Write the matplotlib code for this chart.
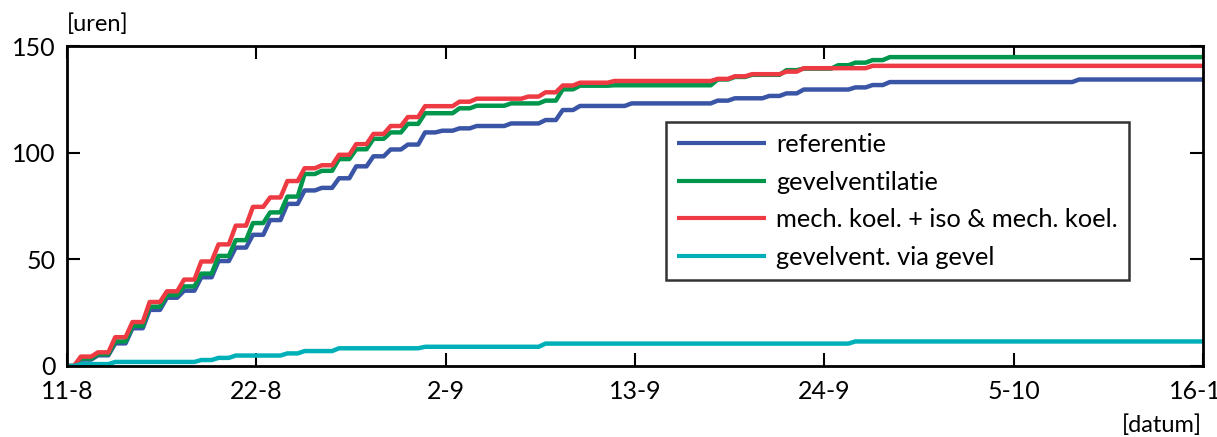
import numpy as np
import matplotlib
matplotlib.use("Agg")
import matplotlib.pyplot as plt

# ---- data: cumulative hours at end of each day (day 0 = 11 Aug) ----
referentie = [3, 5, 10.6, 17.7, 26.3, 32, 35.3, 41.6, 49.2, 55.5,
              61.5, 68.4, 76, 82.3, 83.5, 88, 93.6, 98.3, 101.5, 103.8,
              109.5, 110.3, 111.4, 112.5, 112.5, 113.7, 113.7, 115.3, 120, 121.9,
              121.9, 121.9, 123.1, 123.1, 123.1, 123.1, 123.1, 124.4, 125.5, 125.5,
              126.6, 127.8, 129.6, 129.6, 129.6, 130.6, 131.7, 133.1, 133.1, 133.1,
              133.1, 133.1, 133.1, 133.1, 133.1, 133.1, 133.1, 133.1, 134.3, 134.3,
              134.3, 134.3, 134.3, 134.3, 134.3, 134.3]
gevelventilatie = [3.5, 5.5, 11.5, 18.8, 27.8, 33.3, 37.3, 43.3, 51.6, 59,
                   67, 72, 79.4, 90, 91.5, 97, 101.6, 106.5, 109.5, 113.5,
                   118.5, 118.5, 120.8, 122, 122, 123.1, 123.1, 124.4, 129.7, 131.4,
                   131.4, 131.6, 131.6, 131.6, 131.6, 131.6, 131.6, 134.3, 135.5, 136.5,
                   136.5, 138.7, 139.4, 139.4, 141, 142.2, 143.4, 144.8, 144.8, 144.8,
                   144.8, 144.8, 144.8, 144.8, 144.8, 144.8, 144.8, 144.8, 144.8, 144.8,
                   144.8, 144.8, 144.8, 144.8, 144.8, 144.8]
mech_koel = [4.4, 6.4, 13.5, 20.6, 30, 35, 40.5, 49, 57, 65.8,
             74.6, 79, 86.7, 92.7, 94.1, 99, 104, 108.8, 112.5, 116.7,
             121.8, 121.8, 123.9, 125.3, 125.3, 125.3, 126.3, 128.3, 131.5, 132.8,
             132.8, 133.6, 133.6, 133.6, 133.6, 133.6, 133.6, 134.6, 135.8, 136.8,
             136.8, 138, 139.6, 139.6, 139.6, 139.6, 140.7, 140.7, 140.7, 140.7,
             140.7, 140.7, 140.7, 140.7, 140.7, 140.7, 140.7, 140.7, 140.7, 140.7,
             140.7, 140.7, 140.7, 140.7, 140.7, 140.7]
gevelvent_via_gevel = [0.9, 0.9, 1.9, 1.9, 1.9, 1.9, 1.9, 2.8, 3.8, 4.9,
                       4.9, 4.9, 5.9, 7.0, 7.0, 8.3, 8.3, 8.3, 8.3, 8.3,
                       9.0, 9.0, 9.0, 9.0, 9.0, 9.0, 9.0, 10.5, 10.5, 10.5,
                       10.5, 10.5, 10.5, 10.5, 10.5, 10.5, 10.5, 10.5, 10.5, 10.5,
                       10.5, 10.5, 10.5, 10.5, 10.5, 11.5, 11.5, 11.5, 11.5, 11.5,
                       11.5, 11.5, 11.5, 11.5, 11.5, 11.5, 11.5, 11.5, 11.5, 11.5,
                       11.5, 11.5, 11.5, 11.5, 11.5, 11.5]

series_labels = ["referentie", "gevelventilatie",
                 "mech. koel. + iso & mech. koel.", "gevelvent. via gevel"]
series_colors = ["#3A55A6", "#00964C", "#EE3A43", "#00B0B8"]

xtick_days = [0, 11, 22, 33, 44, 55, 66]
xtick_labels = ["11-8", "22-8", "2-9", "13-9", "24-9", "5-10", "16-10"]
yticks = [0, 50, 100, 150]


def step_path(vals, total_days=66, rise_start=0.4, rise_end=0.8):
    xs, ys = [0.0], [0.0]
    prev = 0.0
    for d, v in enumerate(vals):
        xs += [d + rise_start, d + rise_end]
        ys += [prev, v]
        prev = v
    xs.append(total_days)
    ys.append(prev)
    return np.array(xs), np.array(ys)


plt.rcParams['font.family'] = ['Lato', 'DejaVu Sans']

fig = plt.figure(figsize=(12.17, 4.37), dpi=100)
ax = fig.add_axes([0.0551, 0.1625, 0.9334, 0.7322])

for vals, lab, col in zip([referentie, gevelventilatie, mech_koel, gevelvent_via_gevel],
                          series_labels, series_colors):
    x, y = step_path(vals)
    ax.plot(x, y, color=col, lw=3.2, label=lab, solid_joinstyle='round',
            solid_capstyle='butt')

ax.set_xlim(0, 66)
ax.set_ylim(0, 150)
ax.set_xticks(xtick_days)
ax.set_xticklabels(xtick_labels)
ax.set_yticks(yticks)
ax.tick_params(direction='in', length=9.5, width=1.5, labelsize=18,
               top=True, right=True, color='black')
ax.tick_params(axis='x', pad=10)
ax.tick_params(axis='y', pad=8)
for s in ax.spines.values():
    s.set_linewidth(2.0)

fig.text(67 / 1217, 1 - 24 / 437, "[uren]", fontsize=17, ha='left', va='center')
fig.text(1202 / 1217, 1 - 425 / 437, "[datum]", fontsize=17, ha='right', va='center')

leg = ax.legend(loc='upper left', bbox_to_anchor=(0.527, 0.764), borderaxespad=0,
                fontsize=18.3, handlelength=3.5, handletextpad=0.38,
                labelspacing=0.575, borderpad=0.45, fancybox=False, frameon=True)
leg.get_frame().set_edgecolor('black')
leg.get_frame().set_linewidth(1.8)
for h in leg.get_lines():
    h.set_linewidth(3)

fig.savefig("out.png", dpi=100)
